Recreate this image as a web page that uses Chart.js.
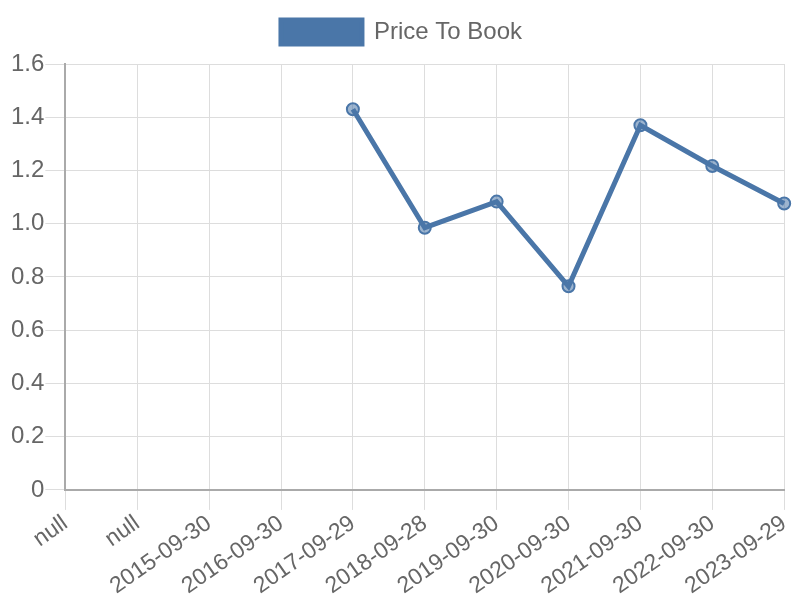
<!DOCTYPE html>
<html>
<head>
<meta charset="utf-8">
<script src="https://cdn.jsdelivr.net/npm/chart.js@4"></script>
<style>
html,body{margin:0;padding:0;background:#fff;}
#wrap{width:800px;height:600px;}
</style>
</head>
<body>
<div id="wrap"><canvas id="c" width="800" height="600"></canvas></div>
<script>
const categories = ["null","null","2015-09-30","2016-09-30","2017-09-29","2018-09-28","2019-09-30","2020-09-30","2021-09-30","2022-09-30","2023-09-29"];
const priceToBook = [null,null,null,null,1.43,0.985,1.083,0.765,1.37,1.217,1.076];
const yTicks = [0,0.2,0.4,0.6,0.8,1.0,1.2,1.4,1.6];
const seriesName = "Price To Book";

Chart.defaults.font.family = "'Liberation Sans', Arial, sans-serif";
Chart.defaults.font.size = 24;
Chart.defaults.color = "#666";

const legendGap = {
  id: 'legendGap',
  beforeLayout(chart) {
    const lg = chart.legend;
    if (lg && !lg._gapPatched) {
      lg._gapPatched = true;
      const origFit = lg.fit;
      lg.fit = function () { origFit.call(this); this.height += 10; };
    }
  }
};

new Chart(document.getElementById('c'), {
  type: 'line',
  data: {
    labels: categories,
    datasets: [{
      label: seriesName,
      data: priceToBook,
      borderColor: '#4a76a8',
      backgroundColor: '#4a76a8',
      pointBackgroundColor: 'rgba(74,118,168,0.55)',
      pointBorderColor: '#4a76a8',
      pointRadius: 6,
      pointBorderWidth: 2,
      borderWidth: 5,
      fill: false,
      tension: 0,
      spanGaps: false
    }]
  },
  options: {
    responsive: false,
    animation: false,
    layout: { padding: { left: 10, right: 7, top: 10, bottom: 0 } },
    plugins: {
      legend: {
        labels: { boxWidth: 81, boxHeight: 24, font: { size: 24 }, padding: 10 }
      },
      tooltip: { enabled: false }
    },
    scales: {
      x: {
        grid: { color: '#ddd', tickLength: 20 },
        border: { color: '#aaa', width: 2 },
        ticks: { minRotation: 35, maxRotation: 35, autoSkip: false, font: { size: 23 }, padding: 0 }
      },
      y: {
        min: 0, max: 1.6,
        afterBuildTicks: (axis) => { axis.ticks = yTicks.map(v => ({ value: v })); },
        grid: { color: '#ddd', tickLength: 20 },
        border: { color: '#aaa', width: 2 },
        ticks: {
          font: { size: 24 },
          padding: 1,
          callback: (v) => v === 0 ? '0' : v.toFixed(1)
        }
      }
    }
  },
  plugins: [legendGap]
});
</script>
</body>
</html>
